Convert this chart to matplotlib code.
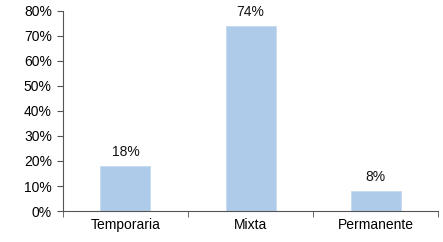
import numpy as np
import matplotlib.pyplot as plt
from matplotlib.ticker import FuncFormatter

# datos
categorias = ["Temporaria", "Mixta", "Permanente"]
valores = [18, 74, 8]
etiquetas = ["18%", "74%", "8%"]

plt.rcParams['font.family'] = ['Liberation Sans', 'DejaVu Sans']

fig = plt.figure(figsize=(4.43, 2.42), dpi=100)
ax = fig.add_axes([0.142, 0.128, 0.847, 0.827])

x = np.arange(len(categorias))
ax.bar(x, valores, width=0.4, color='#aecbe9', edgecolor='#c5daef', linewidth=0.6, zorder=2)

for xi, v, t in zip(x, valores, etiquetas):
    ax.annotate(t, (xi, v), xytext=(0, 5), textcoords='offset points',
                ha='center', va='bottom', fontsize=10, color='#111111')

ax.set_xlim(-0.5, len(categorias) - 0.5)
ax.set_ylim(0, 80)
ax.set_yticks(np.arange(0, 81, 10))
ax.yaxis.set_major_formatter(FuncFormatter(lambda v, p: "%d%%" % v))

ax.set_xticks(x)
ax.set_xticklabels(categorias)
ax.set_xticks(np.arange(-0.5, len(categorias), 1), minor=True)
ax.tick_params(axis='x', which='major', length=0, labelsize=10, pad=5)
ax.tick_params(axis='x', which='minor', length=4, direction='out', color='#555555')
ax.tick_params(axis='y', length=4, direction='out', labelsize=10, color='#555555', pad=4)

for s in ['top', 'right']:
    ax.spines[s].set_visible(False)
ax.spines['left'].set_color('#555555')
ax.spines['bottom'].set_color('#555555')
ax.spines['left'].set_linewidth(0.8)
ax.spines['bottom'].set_linewidth(0.8)

fig.savefig("out.png", dpi=100)
